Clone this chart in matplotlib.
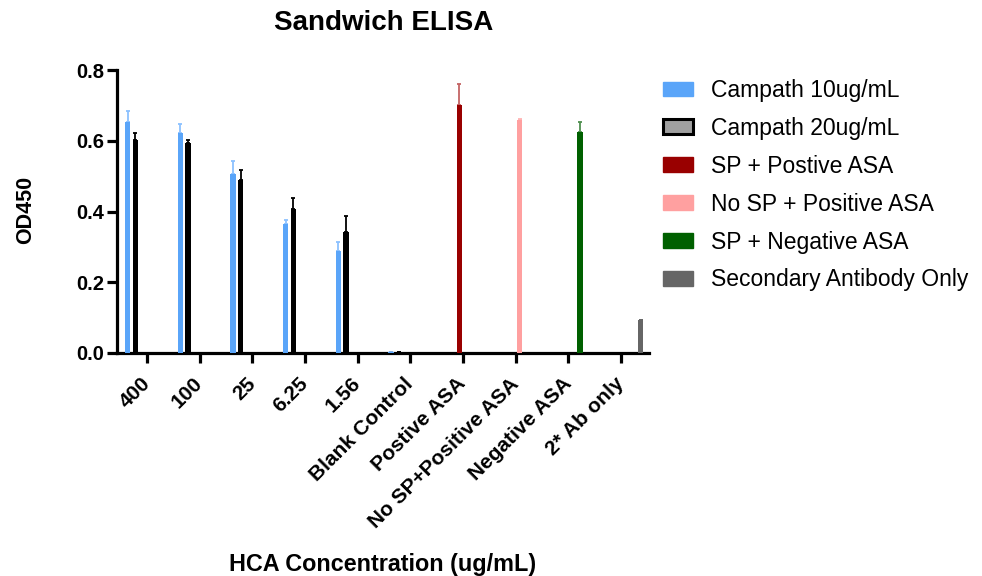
import numpy as np
import matplotlib
matplotlib.use('Agg')
import matplotlib.pyplot as plt
from matplotlib.patches import Patch

plt.rcParams['font.family'] = ['Liberation Sans', 'DejaVu Sans']

#%% data

categories = ['400', '100', '25', '6.25', '1.56', 'Blank Control', 'Postive ASA',
              'No SP+Positive ASA', 'Negative ASA', '2* Ab only']

# Campath series cover the first six categories
campath10 = [0.652, 0.621, 0.507, 0.366, 0.289, 0.003]
campath10_err = [0.033, 0.025, 0.035, 0.011, 0.025, 0.0]
campath20 = [0.602, 0.595, 0.488, 0.408, 0.343, 0.002]
campath20_err = [0.021, 0.007, 0.029, 0.030, 0.043, 0.0]

# single bar controls
sp_pos = [0.701]
sp_pos_err = [0.059]
nosp_pos = [0.659]
nosp_pos_err = [0.003]
sp_neg = [0.626]
sp_neg_err = [0.028]
secondary = [0.093]
secondary_err = [0.0]

#%% plot

fig = plt.figure(figsize=(9.82, 5.76), dpi=100)
ax = fig.add_axes([117/982, 1-353/576, (649-117)/982, (353-70)/576])

slot = 0.148
width = 0.10
x = np.arange(len(categories))

series = [
    (campath10, campath10_err, x[:6], 0, '#5aa5f9', '#8cc2ff', 'Campath 10ug/mL'),
    (campath20, campath20_err, x[:6], 1, '#000000', '#000000', 'Campath 20ug/mL'),
    (sp_pos, sp_pos_err, x[6:7], 2, '#990000', '#c46464', 'SP + Postive ASA'),
    (nosp_pos, nosp_pos_err, x[7:8], 3, '#ffa0a0', '#ffb4b4', 'No SP + Positive ASA'),
    (sp_neg, sp_neg_err, x[8:9], 4, '#006000', '#4f904f', 'SP + Negative ASA'),
    (secondary, secondary_err, x[9:10], 5, '#666666', '#666666', 'Secondary Antibody Only'),
]

handles = []
for vals, errs, pos, k, col, ecol, lab in series:
    xp = pos + (k - 2.5) * slot
    ax.bar(xp, vals, width=width, color=col, zorder=3)
    ax.errorbar(xp, vals, yerr=[np.zeros(len(errs)), errs], fmt='none',
                ecolor=ecol, elinewidth=1.3, capsize=1.2, capthick=1.3, zorder=2)
    if k == 1:
        handles.append(Patch(facecolor='#a0a0a0', edgecolor='black', lw=2.2, label=lab))
    else:
        handles.append(Patch(facecolor=col, edgecolor=col, label=lab))

ax.set_xlim(-0.57, 9.53)
ax.set_ylim(0, 0.8)
ax.set_yticks([0, 0.2, 0.4, 0.6, 0.8])
ax.set_yticklabels(['0.0', '0.2', '0.4', '0.6', '0.8'], fontweight='bold', fontsize=14.5)
ax.set_xticks(x)
ax.set_xticklabels(categories, rotation=45, ha='right', va='center',
                   rotation_mode='anchor', fontweight='bold', fontsize=15)

for s in ['top', 'right']:
    ax.spines[s].set_visible(False)
for s in ['left', 'bottom']:
    ax.spines[s].set_linewidth(2.3)
ax.tick_params(axis='both', width=2.3, length=7)
ax.tick_params(axis='x', pad=13)
ax.tick_params(axis='y', pad=2)

fig.text(384/982, 1-23/576, 'Sandwich ELISA', ha='center', va='center',
         fontsize=20, fontweight='bold')
fig.text(383/982, 1-564/576, 'HCA Concentration (ug/mL)', ha='center', va='center',
         fontsize=16.8, fontweight='bold')
fig.text(26/982, 1-210/576, 'OD450', ha='center', va='center', rotation=90,
         fontsize=15.5, fontweight='bold')

fig.legend(handles=handles, loc='upper left', bbox_to_anchor=(663/982, 1-79/576),
           frameon=False, fontsize=16.5, handlelength=1.33, handleheight=0.62,
           handletextpad=0.78, labelspacing=0.65, borderpad=0, borderaxespad=0)

plt.savefig('out.png', dpi=100)
